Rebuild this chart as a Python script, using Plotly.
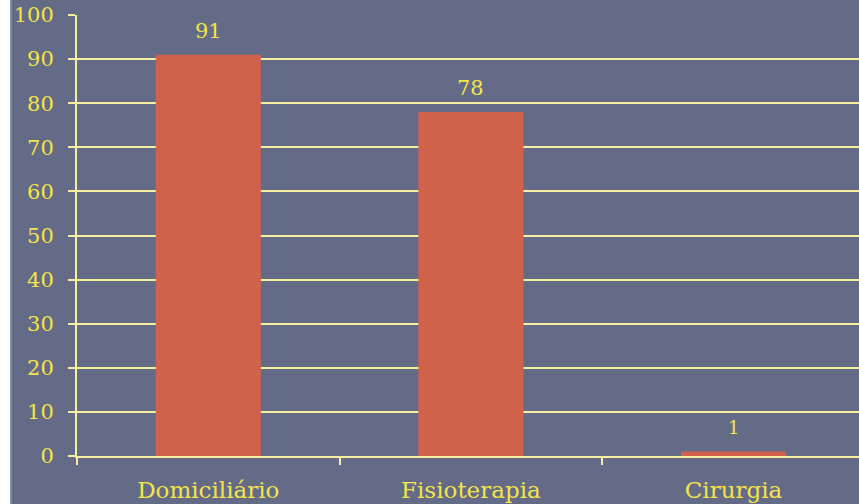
import plotly.graph_objects as go

categories = ["Domiciliário", "Fisioterapia", "Cirurgia"]
values = [91, 78, 1]
y_ticks = [0, 10, 20, 30, 40, 50, 60, 70, 80, 90, 100]

BG = "#646b87"
BAR = "#d0614a"
TXT = "#f5e447"
GRID = "#f6eea0"
FONT = "DejaVu Serif"

W, H = 859, 504
ML, MR, MT, MB = 77, 0, 15, 48
plot_w = W - ML - MR
cat_w = 262.6

fig = go.Figure()
fig.add_trace(go.Bar(
    x=categories, y=values, marker_color=BAR, marker_line_width=0,
    width=0.4,
))

for c, v in zip(categories, values):
    fig.add_annotation(
        x=c, y=v, text=str(v), showarrow=False, yanchor="middle",
        yshift=24, font=dict(family=FONT, size=21 if v > 9 else 18, color=TXT),
    )

# white strip and teal border at left edge
fig.add_shape(type="rect", xref="paper", yref="paper",
              x0=-ML / plot_w, x1=-(ML - 10) / plot_w, y0=-MB / (H - MT - MB), y1=1 + MT / (H - MT - MB),
              fillcolor="white", line_width=0, layer="below")
fig.add_shape(type="rect", xref="paper", yref="paper",
              x0=-(ML - 10) / plot_w, x1=-(ML - 12) / plot_w, y0=-MB / (H - MT - MB), y1=1 + MT / (H - MT - MB),
              fillcolor="#7a9590", line_width=0, layer="below")

fig.update_layout(
    width=W, height=H,
    margin=dict(l=ML, r=MR, t=MT, b=MB, pad=0),
    paper_bgcolor=BG, plot_bgcolor=BG,
    showlegend=False,
    font=dict(family=FONT, color=TXT, size=20),
    xaxis=dict(
        range=[-0.5, -0.5 + plot_w / cat_w],
        tickson="boundaries", ticks="outside", ticklen=7, tickwidth=2, tickcolor=GRID,
        showgrid=False, showline=True, linecolor=GRID, linewidth=2,
        tickfont=dict(family=FONT, size=23, color=TXT),
        ticklabelstandoff=12,
    ),
    yaxis=dict(
        range=[0, 100], tickvals=y_ticks, ticktext=[str(t) for t in y_ticks],
        ticks="outside", ticklen=7, tickwidth=2, tickcolor=GRID,
        showgrid=True, gridcolor=GRID, gridwidth=2,
        showline=True, linecolor=GRID, linewidth=2, zeroline=False,
        tickfont=dict(family=FONT, size=21, color=TXT),
        ticklabelstandoff=10,
    ),
)

fig.write_html("out.html")
